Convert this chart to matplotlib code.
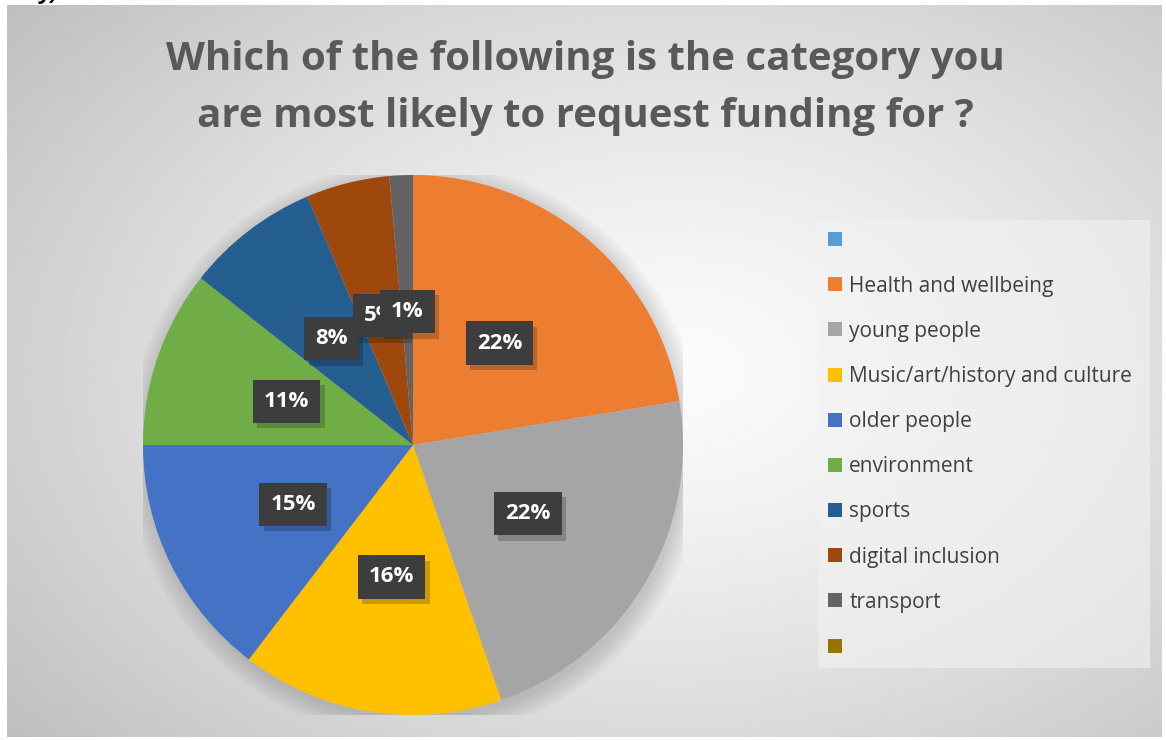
import numpy as np
import matplotlib
matplotlib.use("Agg")
import matplotlib.pyplot as plt
from matplotlib.patches import Patch, Circle

# data (clockwise from 12 o'clock)
categories = ["Health and wellbeing", "young people", "Music/art/history and culture",
              "older people", "environment", "sports", "digital inclusion", "transport"]
shares = [22.4, 22.3, 15.7, 14.6, 10.6, 8.0, 5.0, 1.4]
colors = ["#ED7D31", "#A5A5A5", "#FFC000", "#4472C4", "#70AD47",
          "#255E91", "#9E480E", "#636363"]

# legend has two empty entries around the real ones
legend_labels = [""] + categories + [""]
legend_colors = ["#5B9BD5"] + colors + ["#997300"]

title = "Which of the following is the category you\nare most likely to request funding for ?"

plt.rcParams['font.family'] = ['Open Sans', 'DejaVu Sans']

W, H = 1166, 740
fig = plt.figure(figsize=(W / 100, H / 100), dpi=100)
fig.patch.set_facecolor("white")

# radial gradient background panel
bg = fig.add_axes([7 / W, 1 - 737 / H, (1162 - 7) / W, (737 - 5) / H])
yy, xx = np.mgrid[0:1:300j, 0:1:500j]
d = np.sqrt(((xx - 0.58) / 0.75) ** 2 + ((yy - 0.5) / 0.8) ** 2)
d = np.clip(d, 0, 1)
shade = 0.985 - 0.24 * d ** 1.3
bg.imshow(shade, cmap="gray", vmin=0, vmax=1, aspect="auto", extent=[0, 1, 0, 1])
bg.set_axis_off()

# pie
cx, cy, r = 413, 445, 270
ax = fig.add_axes([(cx - r) / W, 1 - (cy + r) / H, 2 * r / W, 2 * r / H])

# soft shadow under the pie
for k in range(8):
    ax.add_patch(Circle((0.01, -0.02), 1.0 + 0.01 * k, color="black",
                        alpha=0.02, lw=0, zorder=0))

wedges, _ = ax.pie(shares, colors=colors, startangle=90, counterclock=False,
                   radius=1, wedgeprops=dict(linewidth=0))
ax.set_xlim(-1, 1)
ax.set_ylim(-1, 1)
ax.set_axis_off()

for w, v in zip(wedges, shares):
    ang = np.deg2rad((w.theta1 + w.theta2) / 2)
    x, y = 0.495 * np.cos(ang), 0.495 * np.sin(ang)
    lab = "%.0f%%" % v
    # shadow box
    ax.annotate(lab, (x, y), xytext=(3, -4), textcoords="offset points",
                ha="center", va="center", fontsize=16, fontweight="bold", color=(0, 0, 0, 0),
                bbox=dict(boxstyle="square,pad=0.5", fc="black", ec="none", alpha=0.2),
                zorder=5)
    ax.annotate(lab, (x, y), ha="center", va="center", fontsize=16,
                fontweight="bold", color="white",
                bbox=dict(boxstyle="square,pad=0.5", fc="#3d3d3d", ec="none"),
                zorder=6)

# title
fig.text(585 / W, 1 - 88 / H, title, ha="center", va="center", fontsize=29,
         fontweight="bold", color="#595959", linespacing=1.6)

# stray cut-off text at the very top
fig.text(40 / W, 1 + 1 / H, "y)", ha="left", va="baseline", fontsize=16,
         fontweight="bold", style="italic", color="black")

handles = [Patch(facecolor=c, edgecolor="none") for c in legend_colors]
leg = fig.legend(handles, legend_labels, loc="upper left",
                 bbox_to_anchor=(818 / W, 1 - 220 / H, (1150 - 818) / W, 0),
                 mode="expand", frameon=True, fancybox=False, fontsize=15,
                 handlelength=0.65, handleheight=0.65, handletextpad=0.35,
                 labelspacing=1.16, borderpad=0.5, borderaxespad=0)
leg.get_frame().set_facecolor("#f2f2f2")
leg.get_frame().set_alpha(0.6)
leg.get_frame().set_edgecolor("none")
for t in leg.get_texts():
    t.set_color("#404040")

fig.savefig("out.png", dpi=100)
